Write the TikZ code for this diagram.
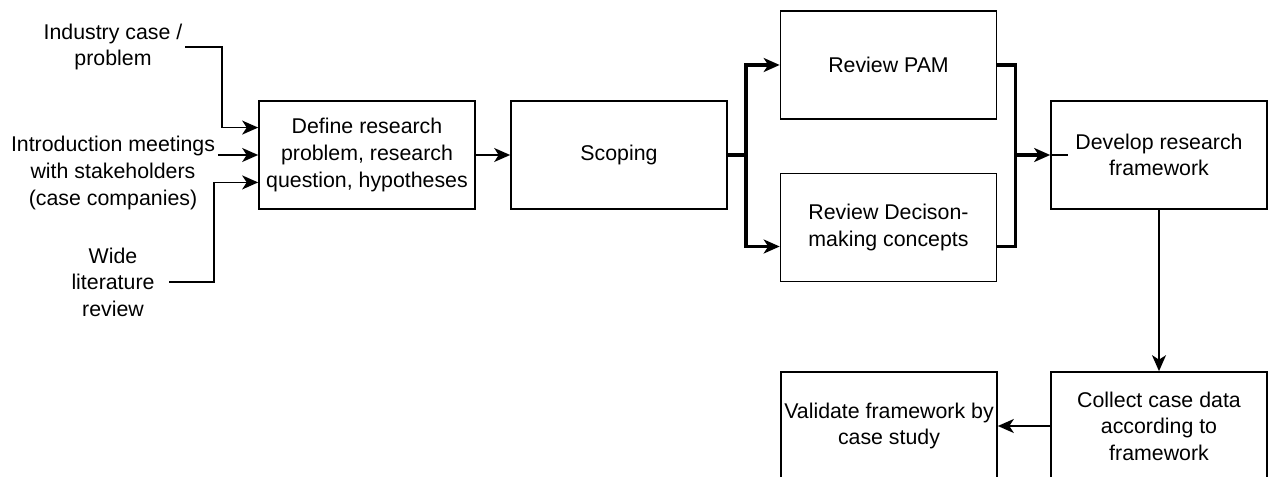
\documentclass[tikz,border=0pt]{standalone}
\usepackage{fontspec}
\setmainfont{Liberation Sans}
\usetikzlibrary{arrows.meta,calc}
\begin{document}
\begin{tikzpicture}[x=0.75pt,y=-0.75pt,
  txt/.style={font=\fontsize{16}{19.9}\selectfont},
  box/.style={txt, draw, line width=1.25pt, minimum width=162pt, minimum height=81pt,
    align=center, inner sep=0pt},
  lbl/.style={txt, align=center, inner sep=2pt},
  tip/.style={-{Stealth[length=12pt,width=10.5pt,inset=3.4pt]}},
  link/.style={line width=1.25pt, tip},
  plain/.style={line width=1.25pt},
  fork/.style={line width=2.5pt}
]
\useasboundingbox (0,0) rectangle (1274,477);

% process boxes
\node[box] (define) at (367,155) {Define research\\problem, research\\question, hypotheses};
\node[box] (scope)  at (619,155) {Scoping};
\node[box] (pam)    at (888.5,65) {Review PAM};
\node[box] (dec)    at (888.5,227.5) {Review Decison-\\making concepts};
\node[box] (dev)    at (1159,155) {Develop research\\framework};
\node[box] (coll)   at (1159,426) {Collect case data\\according to\\framework};
\node[box] (valid)  at (889,426) {Validate framework by\\case study};

% inputs
\node[lbl] (ind)   at (113,47)  {Industry case /\\problem};
\node[lbl] (intro) at (113,173) {Introduction meetings\\with stakeholders\\(case companies)};
\node[lbl] (wide)  at (113,282) {Wide\\literature\\review};

\coordinate (d1) at ($(define.north west)!0.25!(define.south west)$);
\coordinate (d3) at ($(define.north west)!0.75!(define.south west)$);
\coordinate (wstart) at ([xshift=9pt]wide.east);

\draw[link] (ind.east) -| ($(ind.east)!0.5!(d1)$) |- (d1);
\draw[link] (intro.east |- define.west) -- (define.west);
\draw[link] (wstart) -| ($(wstart)!0.5!(d3)$) |- (d3);

\draw[link] (define.east) -- (scope.west);

% parallel reviews
\coordinate (fl) at ($(scope.east)+(18,0)$);
\coordinate (decin) at ($(dec.west)+(0,19)$);
\coordinate (decout) at ($(dec.east)+(0,19)$);
\coordinate (fr) at ($(dev.west)+(-35,0)$);

\draw[fork] (scope.east) -- (fl);
\draw[fork,tip] (fl) |- (pam.west);
\draw[fork,tip] (fl) |- (decin);
\draw[fork] (pam.east) -| (fr);
\draw[fork] (decout) -| (fr);
\draw[fork,tip] (fr) -- (dev.west);
\draw[plain] (dev.west) -- ++(18,0);

\draw[link] (dev.south) -- (coll.north);
\draw[link] (coll.west) -- (valid.east);
\end{tikzpicture}
\end{document}
